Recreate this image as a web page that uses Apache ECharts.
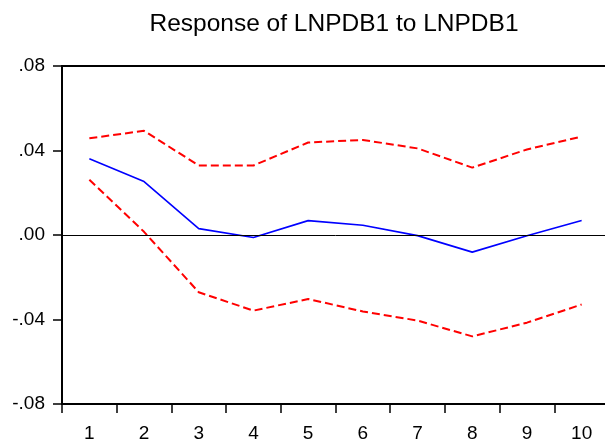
<!DOCTYPE html>
<html>
<head>
<meta charset="utf-8">
<script src="https://cdn.jsdelivr.net/npm/echarts@6/dist/echarts.min.js"></script>
<style>
html,body{margin:0;padding:0;background:#fff;overflow:hidden;}
#chart{width:612px;height:443px;}
</style>
</head>
<body>
<div id="chart"></div>
<script>
var titleText = 'Response of LNPDB1 to LNPDB1';
var categories = ['1','2','3','4','5','6','7','8','9','10'];
var response = [0.0361, 0.0253, 0.0030, -0.0012, 0.0068, 0.0046, -0.0003, -0.0081, -0.0004, 0.0069];
var upperBand = [0.0458, 0.0493, 0.0329, 0.0329, 0.0438, 0.0450, 0.0410, 0.0319, 0.0405, 0.0466];
var lowerBand = [0.0262, 0.0015, -0.0271, -0.0358, -0.0303, -0.0362, -0.0405, -0.0480, -0.0415, -0.0329];
var yMin = -0.08, yMax = 0.08, yStep = 0.04;

var chart = echarts.init(document.getElementById('chart'), null, {renderer:'canvas'});
var font = 'Liberation Sans, Arial, sans-serif';
chart.setOption({
  animation: false,
  title: {
    text: titleText,
    left: 329, top: 7, textAlign: 'center',
    textStyle: {fontFamily: font, fontSize: 24.5, fontWeight: 'normal', color: '#000'}
  },
  grid: {left: 62, width: 547, top: 66, height: 338, show: true, borderColor: '#000', borderWidth: 2, backgroundColor: '#fff'},
  xAxis: {
    type: 'category', data: categories, boundaryGap: true,
    axisLine: {onZero: false, lineStyle: {color: '#000', width: 2}},
    axisTick: {show: true, length: 9, lineStyle: {color: '#000', width: 1.5}},
    axisLabel: {color: '#000', fontFamily: font, fontSize: 19, margin: 20},
    splitLine: {show: false}
  },
  yAxis: {
    type: 'value', min: yMin, max: yMax, interval: yStep,
    axisLine: {show: true, lineStyle: {color: '#000', width: 2}},
    axisTick: {show: true, length: 9, lineStyle: {color: '#000', width: 1.5}},
    axisLabel: {color: '#000', fontFamily: font, fontSize: 19, margin: 17,
      formatter: function(v){ if (Math.abs(v) < 1e-9) return '.00'; return v.toFixed(2).replace('0.', '.'); }},
    splitLine: {show: false}
  },
  series: [
    {type: 'line', data: upperBand, symbol: 'none', lineStyle: {color: '#ff0000', width: 2, type: [8,4]}},
    {type: 'line', data: lowerBand, symbol: 'none', lineStyle: {color: '#ff0000', width: 2, type: [8,4]}},
    {type: 'line', data: response, symbol: 'none', lineStyle: {color: '#0000ff', width: 1.6},
      markLine: {silent: true, symbol: 'none', label: {show: false}, lineStyle: {color: '#000', width: 1, type: 'solid'}, data: [{yAxis: 0}]}}
  ]
});
</script>
</body>
</html>
